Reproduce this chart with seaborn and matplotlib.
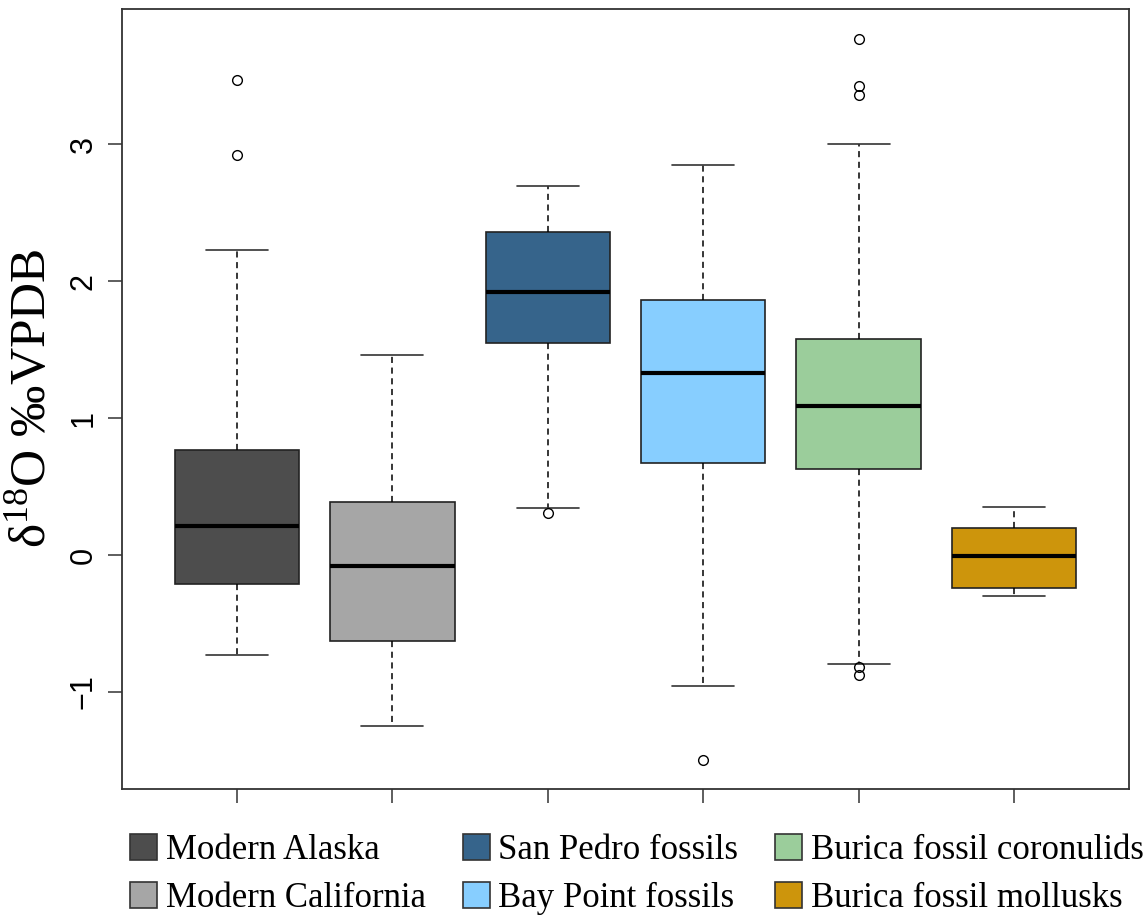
import matplotlib
matplotlib.use("Agg")
import matplotlib.pyplot as plt
from matplotlib.patches import Patch
import seaborn as sns

# Group names and box colours
groups = ["Modern Alaska", "Modern California", "San Pedro fossils",
          "Bay Point fossils", "Burica fossil coronulids", "Burica fossil mollusks"]
colors = ["#4D4D4D", "#A6A6A6", "#36648B", "#87CEFF", "#9BCD9B", "#CD950C"]

# Five-number summaries (per mil VPDB)
whisker_low = [-0.73, -1.25, 0.34, -0.96, -0.80, -0.30]
q1 = [-0.21, -0.63, 1.55, 0.67, 0.63, -0.24]
median = [0.21, -0.08, 1.92, 1.33, 1.09, -0.01]
q3 = [0.77, 0.39, 2.36, 1.86, 1.58, 0.20]
whisker_high = [2.23, 1.46, 2.70, 2.85, 3.00, 0.35]

# Points beyond the whiskers
outliers = [
    [2.92, 3.47],
    [],
    [0.31],
    [-1.50],
    [3.36, 3.43, 3.77, -0.82, -0.88],
    [],
]

sns.set_theme(style="white")
plt.rcParams["font.family"] = ["Liberation Serif", "DejaVu Serif"]
plt.rcParams["text.color"] = "black"
plt.rcParams["axes.labelcolor"] = "black"
plt.rcParams["ytick.labelcolor"] = "black"
plt.rcParams["mathtext.fontset"] = "custom"
plt.rcParams["mathtext.rm"] = "Liberation Serif"
plt.rcParams["mathtext.it"] = "Liberation Serif"
plt.rcParams["mathtext.default"] = "regular"

fig = plt.figure(figsize=(11.47, 9.17), dpi=100)
ax = fig.add_axes([122 / 1147, 1 - 789 / 917, (1129 - 122) / 1147, (789 - 9) / 917])

stats = []
for i, name in enumerate(groups):
    stats.append(dict(label=name, med=median[i], q1=q1[i], q3=q3[i],
                      whislo=whisker_low[i], whishi=whisker_high[i],
                      fliers=outliers[i]))

positions = list(range(1, len(groups) + 1))
bp = ax.bxp(
    stats, positions=positions, widths=0.8, patch_artist=True,
    showfliers=True, manage_ticks=False,
    boxprops=dict(edgecolor="#222222", linewidth=1.2),
    medianprops=dict(color="black", linewidth=3.0, solid_capstyle="butt"),
    whiskerprops=dict(color="black", linewidth=1.1, linestyle=(0, (4, 3))),
    capprops=dict(color="#333333", linewidth=1.2),
    capwidths=0.4,
    flierprops=dict(marker="o", markersize=7, markerfacecolor="none",
                    markeredgecolor="black", markeredgewidth=1.0),
)
for patch, c in zip(bp["boxes"], colors):
    patch.set_facecolor(c)

ax.set_xlim(0.26, 6.74)
ax.set_ylim(-1.71, 3.99)
ax.set_xticks(positions)
ax.set_xticklabels([])
ax.set_yticks([-1, 0, 1, 2, 3])
ax.set_yticklabels(["\u22121", "0", "1", "2", "3"], rotation=90, va="center",
                   family=["Liberation Sans", "DejaVu Sans"], fontsize=22)
ax.tick_params(axis="both", direction="out", length=10, width=1.1, color="#333333",
               left=True, bottom=True, pad=7)
for s in ax.spines.values():
    s.set_color("#333333")
    s.set_linewidth(1.3)
    s.set_visible(True)

fig.text(33 / 1147, 1 - 398 / 917, "\u03b4$^{18}$O \u2030VPDB", fontsize=37,
         rotation=90, ha="center", va="center", color="black")

handles = [Patch(facecolor=c, edgecolor="#333333", linewidth=1.2) for c in colors]
fig.legend(handles, groups, loc="lower left", bbox_to_anchor=(130 / 1147, 2 / 917),
           ncol=3, frameon=False, fontsize=25, handlelength=0.78, handleheight=0.78,
           handletextpad=0.25, columnspacing=1.06, labelspacing=0.42,
           borderpad=0, borderaxespad=0)

fig.savefig("out.png", dpi=100, facecolor="white")
